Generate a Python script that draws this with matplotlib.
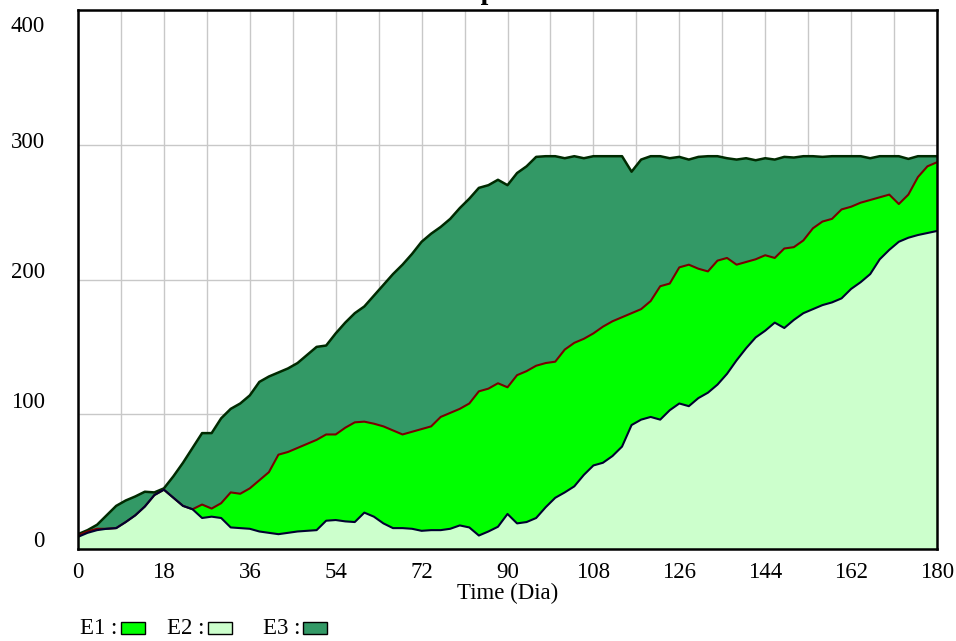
import numpy as np
import matplotlib
matplotlib.use("Agg")
import matplotlib.pyplot as plt
import matplotlib.transforms as mtransforms
from matplotlib.patches import Rectangle

plt.rcParams['font.family'] = ['Liberation Serif', 'DejaVu Serif']

# Dados (passo de 2 dias)
tempo = list(range(0, 181, 2))

e2 = [9, 12, 14, 15, 15.5, 20, 25, 31.5, 40, 44,
      38, 32, 29.5, 23, 24, 23, 16, 15.5, 15, 13,
      12, 11, 12, 13, 13.5, 14, 21, 21.5, 20.5, 20,
      27, 24, 19, 15.5, 15.5, 15, 13.5, 14, 14, 15,
      17.5, 16, 10, 13, 16.5, 26, 19, 20, 23, 31,
      38, 42, 46.5, 55, 62, 64, 69, 76, 92, 96,
      98, 96, 103, 108, 106, 112, 116, 122, 130, 140,
      149, 157, 162, 168, 164, 170, 175, 178, 181, 183,
      186, 193, 198, 204, 215, 222, 228, 231, 233, 234.5,
      236]

e1 = [1, 1, 1, 0, 0, 0, 0, 0, 0, 0,
      0, 0, 0, 10, 6, 11, 26, 25.5, 30, 38,
      45, 59, 60, 62, 64.5, 67, 64, 63.5, 69.5, 74,
      67.5, 69, 72, 72.5, 69.5, 72, 75.5, 77, 84, 86,
      86.5, 92, 107, 106, 106.5, 94, 110, 112, 113, 107,
      101, 106, 106.5, 101, 98, 101, 100, 96, 83, 82,
      86, 99, 94, 101, 105, 96, 90, 92, 86, 71,
      64, 58, 56, 48, 59, 54, 54, 60, 62, 62,
      66, 61, 59, 55, 46, 41, 28, 32, 43, 49.5,
      51]

e3 = [1, 1, 3, 10, 16.5, 16, 14, 11, 2, 1,
      16, 32, 45.5, 53, 56, 63, 62, 67, 69, 73,
      71, 61, 62, 63, 66, 69, 66, 75, 78, 81,
      85.5, 95, 105, 116, 126, 132, 139, 143, 141, 144,
      149, 152, 151, 151, 151, 150, 150, 152, 155, 153.5,
      152.5, 142, 138.5, 134, 131.5, 126.5, 122.5, 119.5, 105, 111,
      107.5, 96.5, 93, 82, 78, 83, 85.5, 77.5, 74, 78,
      77, 73.5, 72, 73, 68, 66.5, 62.5, 53.5, 48, 46.5,
      39.5, 37.5, 34.5, 31, 30.5, 28.5, 35.5, 26.5, 15.5, 7.5,
      4.5]

fill_colors = {'E1': '#00ff00', 'E2': '#ccffcc', 'E3': '#339966'}
line_colors = {'E1': '#7a0000', 'E2': '#000030', 'E3': '#002a00'}
fs = 16.5

fig = plt.figure(figsize=(9.56, 6.41), dpi=100)
ax = fig.add_axes([78 / 956, 1 - 549 / 641, (937 - 78) / 956, (549 - 10) / 641])

# empilhamento: E2 embaixo, E1 no meio, E3 em cima
ax.stackplot(tempo, e2, e1, e3,
             colors=[fill_colors['E2'], fill_colors['E1'], fill_colors['E3']],
             linewidth=0, zorder=2)
base = np.array(e2)
mid = base + np.array(e1)
top = mid + np.array(e3)
ax.plot(tempo, top, color=line_colors['E3'], lw=1.8, zorder=3)
ax.plot(tempo, mid, color=line_colors['E1'], lw=1.5, zorder=3)
ax.plot(tempo, base, color=line_colors['E2'], lw=1.5, zorder=4)

ax.set_xlim(0, 180)
ax.set_ylim(0, 400)
ax.set_xticks(range(0, 181, 18))
ax.set_xticks(range(0, 181, 9), minor=True)
ax.set_yticks([0, 100, 200, 300, 400])
ax.grid(True, which='both', axis='x', color='#c8c8c8', lw=1, zorder=1)
ax.grid(True, which='major', axis='y', color='#c8c8c8', lw=1, zorder=1)
ax.tick_params(axis='both', which='both', length=0, labelsize=fs)
ax.tick_params(axis='y', pad=24)
ax.tick_params(axis='x', pad=9)

# deslocamento vertical dos rótulos do eixo y (como no original)
y_offsets = {0: -10, 100: -14, 200: -9, 300: -5, 400: 14}
for val, lab in zip(ax.get_yticks(), ax.get_yticklabels()):
    lab.set_horizontalalignment('right')
    dy = -y_offsets[int(val)] / 100
    lab.set_transform(lab.get_transform() +
                      mtransforms.ScaledTranslation(0, dy, fig.dpi_scale_trans))

for s in ax.spines.values():
    s.set_linewidth(1.8)
    s.set_color('black')
    s.set_zorder(5)

ax.set_xlabel('Time (Dia)', fontsize=fs, labelpad=0)

# título cortado no topo
fig.text(498 / 956, 1 + 1 / 641, 'Empresas', fontsize=20, fontweight='bold',
         ha='center', va='baseline')

# legenda no rodapé
leg_y = 1 - 628 / 641
leg_items = [('E1', 80, 121), ('E2', 167, 208), ('E3', 263, 303)]
for nome, xt, xs in leg_items:
    fig.text(xt / 956, leg_y, nome + ' :', fontsize=fs, ha='left', va='center')
    fig.patches.append(Rectangle((xs / 956, 1 - 634 / 641), 24 / 956, 12 / 641,
                                 transform=fig.transFigure, facecolor=fill_colors[nome],
                                 edgecolor='black', lw=1))

fig.savefig('out.png', dpi=100)
